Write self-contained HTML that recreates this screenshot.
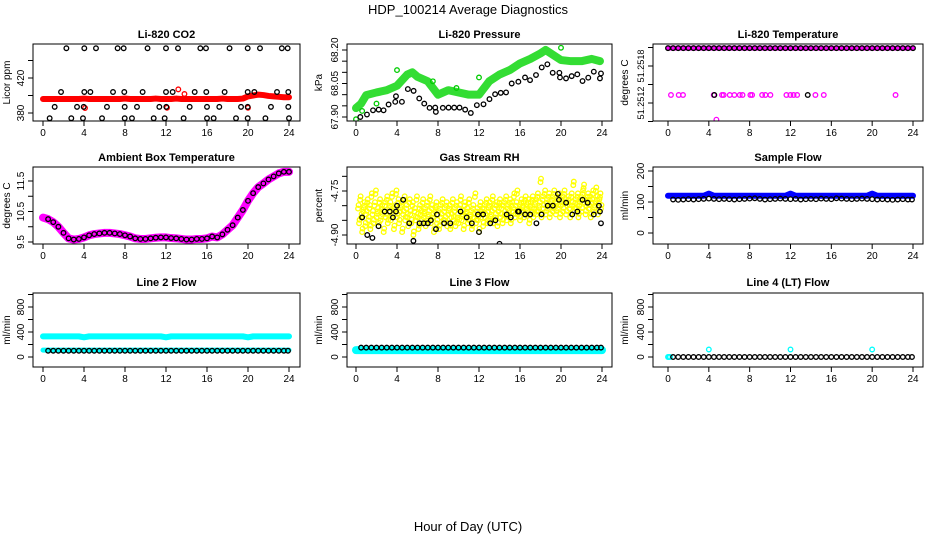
<!DOCTYPE html>
<html><head><meta charset="utf-8">
<style>
html,body{margin:0;padding:0;background:#fff;}
svg{display:block;font-family:"Liberation Sans",sans-serif;}
</style></head>
<body>
<svg id="chart" width="936" height="540" viewBox="0 0 936 540">
<text x="468" y="14" text-anchor="middle" font-size="13">HDP_100214  Average Diagnostics</text>
<text x="468" y="531" text-anchor="middle" font-size="13">Hour of Day (UTC)</text>
</svg>
<script>
const H = [0,0.5,1,1.5,2,2.5,3,3.5,4,4.5,5,5.5,6,6.5,7,7.5,8,8.5,9,9.5,10,10.5,11,11.5,12,12.5,13,13.5,14,14.5,15,15.5,16,16.5,17,17.5,18,18.5,19,19.5,20,20.5,21,21.5,22,22.5,23,23.5,24];
const H2 = [0.5,1,1.5,2,2.5,3,3.5,4,4.5,5,5.5,6,6.5,7,7.5,8,8.5,9,9.5,10,10.5,11,11.5,12,12.5,13,13.5,14,14.5,15,15.5,16,16.5,17,17.5,18,18.5,19,19.5,20,20.5,21,21.5,22,22.5,23,23.5,23.9];
const xTicks = [0,4,8,12,16,20,24];

// CO2
const co2Red = [396,396,396,396,396,396,396,396,396.5,396,396,396,396,396,396,396,396.5,396,396,396,396,396,396.5,396,396,396,396.5,396,396,396,396,396,396,396,396,396.5,396,396,396,396.5,399,400,401,400.5,399.5,399,398.5,398,398];
const co2RedOutT = [13.2,13.8,4.1,12.1,20.0];
const co2RedOutV = [407,401.7,385.7,386,386];
const co2BlkT = [2.28,4.03,5.17,7.28,7.87,10.2,12.0,13.17,15.35,15.9,18.2,19.97,21.17,23.3,23.87,
 1.76,4.03,4.62,6.83,7.93,9.72,12.0,12.65,14.8,15.93,17.72,19.97,20.62,22.83,23.93,
 1.14,3.32,3.97,6.24,7.97,9.17,11.35,12.03,14.31,16.0,17.2,19.32,19.97,22.24,23.93,
 0.65,2.76,3.9,5.76,7.97,8.68,10.8,11.87,13.72,16.0,16.65,18.83,19.97,21.7,24.0];
const co2BlkV = [454,454,454,454,454,454,454,454,454,454,454,454,454,454,454,
 404,404,404,404,404,404,404,404,404,404,404,404,404,404,404,
 387,387,387,387,387,387,387,387,387,387,387,387,387,387,387,
 374,374,374,374,374,374,374,374,374,374,374,374,374,374,374];

// Pressure
const prGreenT = [0,0.5,1,2,3,4,5,5.5,6,7,8,9,10,11,12,13,14,15,16,17,18,18.5,19,20,21,22,23,23.8];
const prGreenV = [67.94,67.96,67.998,68.01,68.02,68.04,68.09,68.10,68.08,68.06,68.0,68.02,68.01,68.0,68.0,68.06,68.09,68.11,68.14,68.16,68.185,68.20,68.185,68.155,68.15,68.15,68.16,68.15];
const prGreenOutT = [0,0.6,4,12,20,2,7.5,9.8];
const prGreenOutV = [67.89,67.927,68.11,68.077,68.21,67.96,68.06,68.03];
const prBlkT = [0.42,1.07,1.66,2.21,2.69,3.18,3.83,3.9,4.48,5.06,5.62,6.17,6.66,7.18,7.73,7.79,8.47,9.03,9.58,10.1,10.65,11.2,11.79,12.44,13.02,13.57,14.12,14.64,15.19,15.84,16.49,16.98,17.56,18.12,18.67,19.19,19.84,19.9,20.49,21.04,21.59,22.1,22.66,23.2,23.8,23.9];
const prBlkV = [67.9,67.911,67.93,67.933,67.93,67.956,67.968,67.993,67.968,68.025,68.017,67.983,67.96,67.941,67.942,67.923,67.941,67.942,67.942,67.942,67.933,67.918,67.953,67.957,67.98,68.002,68.008,68.01,68.05,68.058,68.077,68.065,68.088,68.122,68.136,68.098,68.098,68.077,68.073,68.083,68.091,68.061,68.076,68.103,68.073,68.095];

// Li-820 temperature
const tmpTop = 51.25209;
const tmpMagMidT = [0.29,1.05,1.47,4.48,5.29,5.45,6.05,6.5,7.03,7.3,8.07,8.24,9.22,9.54,10.03,11.6,11.99,12.3,12.65,14.44,15.26,22.29];
const tmpMid = 51.25133;
const tmpBlkMidT = [4.54,13.69];
const tmpLowT = [4.74];
const tmpLowV = [51.25093];

// Ambient
const ambV = [10.3,10.25,10.15,10.0,9.8,9.62,9.58,9.6,9.65,9.72,9.76,9.78,9.8,9.8,9.78,9.76,9.72,9.68,9.62,9.6,9.6,9.62,9.64,9.65,9.65,9.63,9.62,9.6,9.58,9.58,9.6,9.6,9.62,9.68,9.65,9.75,9.9,10.05,10.3,10.55,10.85,11.1,11.3,11.42,11.55,11.65,11.75,11.8,11.8];

// RH
const rhYel = [0.2,-4.81,0.3,-4.86,0.4,-4.78,0.5,-4.84,0.6,-4.89,0.7,-4.82,0.8,-4.8,0.9,-4.87,1.0,-4.83,1.1,-4.79,1.2,-4.85,1.3,-4.81,1.4,-4.88,1.5,-4.77,1.6,-4.83,1.7,-4.86,1.8,-4.8,1.9,-4.76,2.0,-4.84,2.1,-4.82,2.2,-4.87,2.3,-4.79,2.4,-4.85,2.5,-4.81,2.6,-4.83,2.7,-4.89,2.8,-4.8,2.9,-4.84,3.0,-4.78,3.1,-4.86,3.2,-4.82,3.3,-4.8,3.4,-4.85,3.5,-4.77,3.6,-4.83,3.7,-4.88,3.8,-4.81,3.9,-4.76,4.0,-4.84,4.1,-4.79,4.2,-4.86,4.3,-4.82,4.4,-4.8,4.5,-4.89,4.6,-4.83,4.7,-4.78,4.8,-4.85,4.9,-4.81,5.0,-4.84,5.1,-4.87,5.2,-4.79,5.3,-4.83,5.4,-4.86,5.5,-4.8,5.6,-4.9,5.7,-4.82,5.8,-4.85,5.9,-4.78,6.0,-4.84,6.1,-4.88,6.2,-4.81,6.3,-4.83,6.4,-4.86,6.5,-4.79,6.6,-4.84,6.7,-4.82,6.8,-4.87,6.9,-4.8,7.0,-4.85,7.1,-4.83,7.2,-4.78,7.3,-4.86,7.4,-4.81,7.5,-4.84,7.6,-4.89,7.7,-4.82,7.8,-4.8,7.9,-4.86,8.0,-4.83,8.1,-4.88,8.2,-4.81,8.3,-4.84,8.4,-4.79,8.5,-4.86,8.6,-4.82,8.7,-4.85,8.8,-4.8,8.9,-4.87,9.0,-4.83,9.1,-4.81,9.2,-4.88,9.3,-4.84,9.4,-4.79,9.5,-4.85,9.6,-4.82,9.7,-4.87,9.8,-4.8,9.9,-4.84,10.0,-4.86,10.1,-4.81,10.2,-4.78,10.3,-4.85,10.4,-4.83,10.5,-4.88,10.6,-4.8,10.7,-4.84,10.8,-4.82,10.9,-4.86,11.0,-4.79,11.1,-4.85,11.2,-4.83,11.3,-4.88,11.4,-4.81,11.5,-4.84,11.6,-4.77,11.7,-4.86,11.8,-4.82,11.9,-4.85,12.0,-4.89,12.1,-4.8,12.2,-4.84,12.3,-4.82,12.4,-4.87,12.5,-4.81,12.6,-4.84,12.7,-4.79,12.8,-4.86,12.9,-4.82,13.0,-4.8,13.1,-4.85,13.2,-4.83,13.3,-4.78,13.4,-4.86,13.5,-4.81,13.6,-4.84,13.7,-4.8,13.8,-4.87,13.9,-4.82,14.0,-4.79,14.1,-4.84,14.2,-4.81,14.3,-4.86,14.4,-4.8,14.5,-4.83,14.6,-4.78,14.7,-4.85,14.8,-4.81,14.9,-4.83,15.0,-4.79,15.1,-4.86,15.2,-4.8,15.3,-4.82,15.4,-4.77,15.5,-4.84,15.6,-4.8,15.7,-4.76,15.8,-4.83,15.9,-4.81,16.0,-4.85,16.1,-4.79,16.2,-4.82,16.3,-4.8,16.4,-4.84,16.5,-4.78,16.6,-4.81,16.7,-4.83,16.8,-4.79,16.9,-4.86,17.0,-4.8,17.1,-4.82,17.2,-4.78,17.3,-4.84,17.4,-4.81,17.5,-4.79,17.6,-4.83,17.7,-4.77,17.8,-4.82,17.9,-4.8,18.0,-4.72,18.1,-4.84,18.2,-4.78,18.3,-4.81,18.4,-4.76,18.5,-4.83,18.6,-4.79,18.7,-4.81,18.8,-4.77,18.9,-4.84,19.0,-4.8,19.1,-4.78,19.2,-4.82,19.3,-4.76,19.4,-4.8,19.5,-4.83,19.6,-4.79,19.7,-4.81,19.8,-4.77,19.9,-4.84,20.0,-4.8,20.1,-4.78,20.2,-4.82,20.3,-4.76,20.4,-4.79,20.5,-4.83,20.6,-4.8,20.7,-4.78,20.8,-4.81,20.9,-4.84,21.0,-4.77,21.1,-4.8,21.2,-4.73,21.3,-4.82,21.4,-4.79,21.5,-4.81,21.6,-4.77,21.7,-4.84,21.8,-4.8,21.9,-4.78,22.0,-4.82,22.1,-4.76,22.2,-4.74,22.3,-4.79,22.4,-4.83,22.5,-4.8,22.6,-4.77,22.7,-4.81,22.8,-4.78,22.9,-4.84,23.0,-4.79,23.1,-4.76,23.2,-4.82,23.3,-4.8,23.4,-4.75,23.5,-4.78,23.6,-4.83,23.7,-4.79,23.8,-4.77,23.9,-4.81];
const rhBlkT = [0.6,1.1,1.6,2.2,2.8,3.3,3.6,3.9,4.0,4.6,5.2,5.6,6.2,6.6,7.0,7.3,7.8,7.9,8.6,9.2,10.2,10.8,11.3,11.9,12.0,12.4,13.1,13.6,14.0,14.7,15.1,15.8,15.9,16.5,17.0,17.6,18.1,18.7,19.2,19.7,19.8,20.5,21.1,21.6,22.1,22.6,23.2,23.7,23.8,23.9];
const rhBlkV = [-4.84,-4.9,-4.91,-4.87,-4.82,-4.82,-4.84,-4.82,-4.8,-4.78,-4.86,-4.92,-4.86,-4.86,-4.86,-4.85,-4.88,-4.83,-4.86,-4.86,-4.82,-4.84,-4.86,-4.83,-4.89,-4.83,-4.86,-4.85,-4.93,-4.83,-4.84,-4.82,-4.82,-4.83,-4.83,-4.86,-4.83,-4.8,-4.8,-4.76,-4.78,-4.79,-4.83,-4.82,-4.78,-4.79,-4.83,-4.8,-4.82,-4.86];

// Sample flow
const sfBlue = [120,120,120,120,120,120,120,120,127,120,120,120,120,120,120,120,120,120,120,120,120,120,120,120,127,120,120,120,120,120,120,120,120,120,120,120,120,120,120,120,127,120,120,120,120,120,120,120,120];
const sfBlk = [108,107,108,109,108,109,110,111,110,109,110,109,108,109,110,111,112,110,108,109,110,111,110,109,110,108,109,110,109,111,110,109,112,111,110,109,110,111,110,109,108,109,108,107,108,109,108,108];

// Line flows
const l2CyanTop = [330,330,330,330,330,330,330,330,315,330,330,330,330,330,330,330,330,330,330,330,330,330,330,330,315,330,330,330,330,330,330,330,330,330,330,330,330,330,330,330,315,330,330,330,330,330,330,330,330];
const l2CyanLow = [110,110,110,110,110,110,110,110,110,110,110,110,110,110,110,110,110,110,110,110,110,110,110,110,110,110,110,110,110,110,110,110,110,110,110,110,110,110,110,110,110,110,110,110,110,110,110,110,110];
const l2Blk = [100,100,100,100,100,100,100,100,100,100,100,100,100,100,100,100,100,100,100,100,100,100,100,100,100,100,100,100,100,100,100,100,100,100,100,100,100,100,100,100,100,100,100,100,100,100,100,100];
const l3Cyan = [110,110,110,110,110,110,110,110,110,110,110,110,110,110,110,110,110,110,110,110,110,110,110,110,110,110,110,110,110,110,110,110,110,110,110,110,110,110,110,110,110,110,110,110,110,110,110,110,110];
const l3Blk = [150,150,150,150,150,150,150,150,150,150,150,150,150,150,150,150,150,150,150,150,150,150,150,150,150,150,150,150,150,150,150,150,150,150,150,150,150,150,150,150,150,150,150,150,150,150,150,150];
const l4Blk = [0,0,0,0,0,0,0,0,0,0,0,0,0,0,0,0,0,0,0,0,0,0,0,0,0,0,0,0,0,0,0,0,0,0,0,0,0,0,0,0,0,0,0,0,0,0,0,0];
const l4CyanT = [0,0.1,0.2,4,12,20];
const l4CyanV = [0,0,0,120,120,120];

const NS = 'http://www.w3.org/2000/svg';
const svg = document.getElementById('chart');
function el(tag, attrs, parent){const e=document.createElementNS(NS,tag);for(const k in attrs)e.setAttribute(k,attrs[k]);(parent||svg).appendChild(e);return e;}

const cols=[{bx0:33,bx1:300,t0:43,t24:289,ylab:10,tick:24},{bx0:347,bx1:612,t0:356,t24:602,ylab:322,tick:338},{bx0:653,bx1:923,t0:668,t24:913,ylab:628,tick:644}];
const rows=[{by0:44,by1:121,title:38},{by0:167,by1:244,title:161},{by0:293,by1:367,title:286}];

function panel(o){
  const c=cols[o.col], r=rows[o.row];
  const g=el('g',{});
  
  
  const sx=t=>c.t0+(c.t24-c.t0)*t/24;
  const sy=v=>o.py0+(v-o.v0)*(o.py1-o.py0)/(o.v1-o.v0);
  const cp='clip-'+o.name;
  const cl=el('clipPath',{id:cp},g);el('rect',{x:c.bx0,y:r.by0,width:c.bx1-c.bx0,height:r.by1-r.by0},cl);
  const d=el('g',{'clip-path':'url(#'+cp+')'},g);
  
  
  o.draw(d,sx,sy);
  const box=el('rect',{x:c.bx0,y:r.by0,width:c.bx1-c.bx0,height:r.by1-r.by0,fill:'none',stroke:'#000','stroke-width':1},g);
  
  
  const tt=el('text',{x:(c.bx0+c.bx1)/2,y:r.title,'text-anchor':'middle','font-size':11,'font-weight':'bold'},g);
  tt.textContent=o.title;
  
  
  xTicks.forEach(t=>{
    el('line',{x1:sx(t),x2:sx(t),y1:r.by1,y2:r.by1+5,stroke:'#000'},g);
    const lt=el('text',{x:sx(t),y:r.by1+15,'text-anchor':'middle','font-size':10},g);
    lt.textContent=t;
    
    
  });
  o.yTicks.forEach((v,i)=>{
    const y=sy(v);
    el('line',{x1:c.bx0-5,x2:c.bx0,y1:y,y2:y,stroke:'#000'},g);
    if(o.yLabels[i]){
      const attrs={x:c.tick,y:y,'text-anchor':'middle','font-size':o.tickFont||10,transform:'rotate(-90 '+c.tick+' '+y+')'};
      if(o.tickLen){attrs.textLength=o.tickLen;attrs.lengthAdjust='spacingAndGlyphs';}
      const lt=el('text',attrs,g);
      lt.textContent=o.yLabels[i];
      
      
    }
  });
  const ym=(r.by0+r.by1)/2;
  const yl=el('text',{x:c.ylab,y:ym,'text-anchor':'middle','font-size':10,transform:'rotate(-90 '+c.ylab+' '+ym+')'},g);
  yl.textContent=o.ylab;
  
  
}
function circles(p,T,V,col,sx,sy,name){
  T.forEach((t,i)=>{const e=el('circle',{cx:sx(t),cy:sy(V[i]),r:2.3,fill:'none',stroke:col,'stroke-width':1.3},p);
    
    });
}
function band(p,T,V,col,w,sx,sy,name){
  const e=el('polyline',{points:T.map((t,i)=>sx(t)+','+sy(V[i])).join(' '),fill:'none',stroke:col,'stroke-width':w,'stroke-linejoin':'round','stroke-linecap':'round'},p);
  
  
}
function constArr(T,v){return T.map(()=>v);}

panel({name:'co2-panel',col:0,row:0,title:'Li-820 CO2',ylab:'Licor ppm',py0:113,v0:380,py1:78,v1:420,
 yTicks:[380,400,420,440],yLabels:['380','','420',''],
 draw:(p,sx,sy)=>{band(p,H,co2Red,'#ff0000',6,sx,sy,'co2-red-series');circles(p,co2RedOutT,co2RedOutV,'#ff0000',sx,sy,'co2-red-point');circles(p,co2BlkT,co2BlkV,'#000',sx,sy,'co2-black-point');}});
panel({name:'pressure-panel',col:1,row:0,title:'Li-820 Pressure',ylab:'kPa',py0:117,v0:67.90,py1:50,v1:68.20,
 yTicks:[67.90,67.95,68.00,68.05,68.10,68.15,68.20],yLabels:['67.90','','','68.05','','','68.20'],
 draw:(p,sx,sy)=>{band(p,prGreenT,prGreenV,'#33dd33',8,sx,sy,'pressure-green-series');circles(p,prGreenOutT,prGreenOutV,'#00cc00',sx,sy,'pressure-green-point');circles(p,prBlkT,prBlkV,'#000',sx,sy,'pressure-black-point');}});
panel({name:'temperature-panel',col:2,row:0,title:'Li-820 Temperature',ylab:'degrees C',py0:103,v0:51.2512,py1:66,v1:51.2518,
 tickFont:9,tickLen:33,
 yTicks:[51.2509,51.2512,51.2515,51.2518,51.2521],yLabels:['','51.2512','','51.2518',''],
 draw:(p,sx,sy)=>{band(p,H,constArr(H,tmpTop),'#ff00ff',5,sx,sy,'temperature-magenta-series');circles(p,H,constArr(H,tmpTop),'#000',sx,sy,'temperature-black-point');
  circles(p,tmpMagMidT,constArr(tmpMagMidT,tmpMid),'#ff00ff',sx,sy,'temperature-magenta-point');circles(p,tmpBlkMidT,constArr(tmpBlkMidT,tmpMid),'#000',sx,sy,'temperature-black-point');circles(p,tmpLowT,tmpLowV,'#ff00ff',sx,sy,'temperature-magenta-point');}});
panel({name:'ambient-panel',col:0,row:1,title:'Ambient Box Temperature',ylab:'degrees C',py0:242,v0:9.5,py1:181,v1:11.5,
 yTicks:[9.5,10,10.5,11,11.5],yLabels:['9.5','','10.5','','11.5'],
 draw:(p,sx,sy)=>{band(p,H,ambV,'#ff00ff',8,sx,sy,'ambient-magenta-series');circles(p,H.slice(1),ambV.slice(1),'#000',sx,sy,'ambient-black-point');}});
panel({name:'rh-panel',col:1,row:1,title:'Gas Stream RH',ylab:'percent',py0:191,v0:-4.75,py1:235,v1:-4.90,
 yTicks:[-4.70,-4.75,-4.80,-4.85,-4.90],yLabels:['','-4.75','','','-4.90'],
 draw:(p,sx,sy)=>{const T=rhYel.filter((_,i)=>i%2==0),V=rhYel.filter((_,i)=>i%2==1);circles(p,T,V,'#ffff00',sx,sy,'rh-yellow-point');circles(p,T.map(t=>t+0.05),V.map(v=>v+0.012),'#ffff00',sx,sy,'rh-yellow-point');circles(p,rhBlkT,rhBlkV,'#000',sx,sy,'rh-black-point');}});
panel({name:'sample-flow-panel',col:2,row:1,title:'Sample Flow',ylab:'ml/min',py0:233,v0:0,py1:202,v1:100,
 yTicks:[0,50,100,150,200],yLabels:['0','','100','','200'],
 draw:(p,sx,sy)=>{band(p,H,sfBlue,'#0000ff',6,sx,sy,'sample-flow-blue-series');circles(p,H2,sfBlk,'#000',sx,sy,'sample-flow-black-point');}});
const flowTicks=[0,200,400,600,800,1000],flowLabels=['0','','400','','800',''];
panel({name:'line2-flow-panel',col:0,row:2,title:'Line 2 Flow',ylab:'ml/min',py0:357,v0:0,py1:332,v1:400,yTicks:flowTicks,yLabels:flowLabels,
 draw:(p,sx,sy)=>{band(p,H,l2CyanTop,'#00ffff',6,sx,sy,'line2-cyan-upper');band(p,H,l2CyanLow,'#00ffff',5,sx,sy,'line2-cyan-lower');circles(p,H2,l2Blk,'#000',sx,sy,'line2-black-point');}});
panel({name:'line3-flow-panel',col:1,row:2,title:'Line 3 Flow',ylab:'ml/min',py0:357,v0:0,py1:332,v1:400,yTicks:flowTicks,yLabels:flowLabels,
 draw:(p,sx,sy)=>{band(p,H,l3Cyan,'#00ffff',8,sx,sy,'line3-cyan-series');circles(p,H2,l3Blk,'#000',sx,sy,'line3-black-point');}});
panel({name:'line4-flow-panel',col:2,row:2,title:'Line 4 (LT) Flow',ylab:'ml/min',py0:357,v0:0,py1:332,v1:400,yTicks:flowTicks,yLabels:flowLabels,
 draw:(p,sx,sy)=>{circles(p,l4CyanT,l4CyanV,'#00ffff',sx,sy,'line4-cyan-point');circles(p,H2,l4Blk,'#000',sx,sy,'line4-black-point');}});
</script>
</body></html>
